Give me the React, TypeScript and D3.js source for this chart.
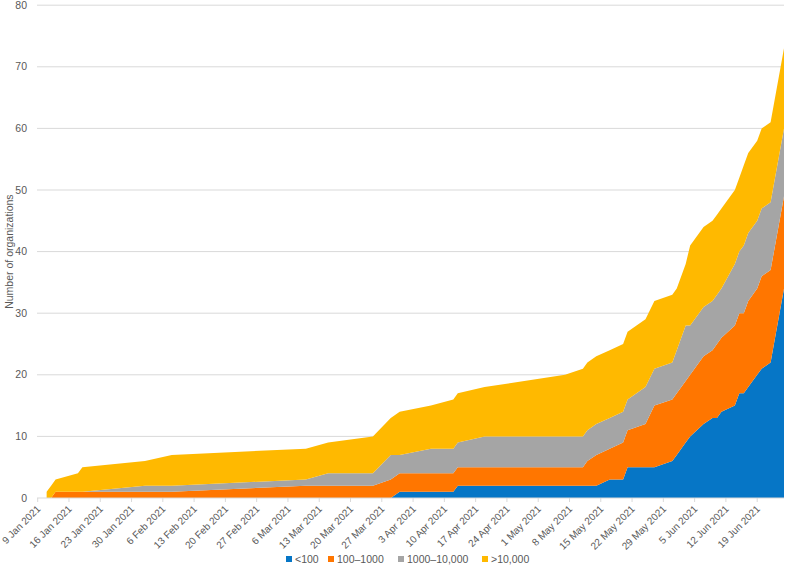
import * as d3 from 'd3';

// dates on which the counts changed (the axis interpolates between them)
const dates = [
  '2021-01-11', '2021-01-12', '2021-01-13', '2021-01-18', '2021-01-19', '2021-02-02',
  '2021-02-08', '2021-03-10', '2021-03-15', '2021-03-25', '2021-03-29', '2021-03-31',
  '2021-04-07', '2021-04-12', '2021-04-13', '2021-04-19', '2021-05-07', '2021-05-11',
  '2021-05-12', '2021-05-14', '2021-05-17', '2021-05-20', '2021-05-21', '2021-05-25',
  '2021-05-27', '2021-05-31', '2021-06-01', '2021-06-03', '2021-06-04', '2021-06-07',
  '2021-06-09', '2021-06-10', '2021-06-11', '2021-06-14', '2021-06-15', '2021-06-16',
  '2021-06-17', '2021-06-19', '2021-06-20', '2021-06-22', '2021-06-25',
];

const under100 = [
  0, 0, 0, 0, 0, 0, 0, 0, 0, 0, 0, 1, 1, 1, 2, 2, 2, 2, 2, 2, 3,
  3, 5, 5, 5, 6, 7, 9, 10, 12, 13, 13, 14, 15, 17, 17, 18, 20, 21, 22, 34,
];
const from100to1000 = [
  0, 0, 1, 1, 1, 1, 1, 2, 2, 2, 3, 3, 3, 3, 3, 3, 3, 3, 4, 5, 5,
  6, 6, 7, 10, 10, 10, 10, 10, 11, 11, 12, 12, 13, 13, 13, 14, 14, 15, 15, 15,
];
const from1000to10000 = [
  0, 0, 0, 0, 0, 1, 1, 1, 2, 2, 4, 3, 4, 4, 4, 5, 5, 5, 5, 5, 5,
  5, 5, 6, 6, 6, 7, 9, 8, 8, 8, 8, 8, 10, 10, 11, 11, 11, 11, 11, 11,
];
const over10000 = [
  1, 2, 2, 3, 4, 4, 5, 5, 5, 6, 6, 7, 7, 8, 8, 8, 10, 11, 11, 11, 11,
  11, 11, 11, 11, 11, 10, 10, 13, 13, 13, 13, 13, 12, 12, 13, 13, 13, 13, 13, 13,
];

const seriesNames = ['<100', '100–1000', '1000–10,000', '>10,000'];
const seriesColors = ['#0676C6', '#FF7600', '#A5A5A5', '#FFB900'];
const yTicks = [0, 10, 20, 30, 40, 50, 60, 70, 80];

const W = 785;
const H = 565;
const FONT = '"Liberation Sans", Arial, sans-serif';
const TEXT = '#595959';

const parse = d3.timeParse('%Y-%m-%d');
const keys = ['a', 'b', 'c', 'd'];
const rows = dates.map((d, i) => ({
  date: parse(d) as Date,
  a: under100[i],
  b: from100to1000[i],
  c: from1000to10000[i],
  d: over10000[i],
}));

export default function App() {
  const start = new Date(2021, 0, 9);
  const end = new Date(2021, 5, 25);
  const x = d3.scaleTime().domain([start, end]).range([37.7, 784]);
  const y = d3.scaleLinear().domain([0, 80]).range([498, 5.2]);

  const stacked = d3.stack<any>().keys(keys)(rows);
  const area = d3.area<any>()
    .x(d => x(d.data.date))
    .y0(d => y(d[0]))
    .y1(d => y(d[1]));

  // weekly ticks from 9 Jan
  const xTicks = d3.range(0, 24).map(i => d3.timeDay.offset(start, i * 7));
  const fmt = d3.timeFormat('%-d %b %Y');

  const legendX = [286, 328, 398, 482];

  return (
    <svg width={W} height={H} style={{ position: 'absolute', left: 0, top: 0, background: '#fff' }}
      fontFamily={FONT}>
      {yTicks.map(t => (
        <g key={t}>
          {t > 0 && (
            <line x1={37} x2={784} y1={y(t)} y2={y(t)} stroke="#D9D9D9" strokeWidth={1} />
          )}
          <text x={27} y={y(t)} dy="0.35em" textAnchor="end" fontSize={10.5} fill={TEXT}>{t}</text>
        </g>
      ))}
      <text transform={`translate(9,${y(40)}) rotate(-90)`} textAnchor="middle" dy="0.35em"
        fontSize={10.5} fill={TEXT}>Number of organizations</text>

      {stacked.map((s, i) => (
        <path key={i} d={area(s) as string} fill={seriesColors[i]} />
      ))}

      <line x1={37} x2={784} y1={y(0)} y2={y(0)} stroke="#D9D9D9" strokeWidth={1} />
      {xTicks.map((t, i) => (
        <g key={i}>
          <line x1={x(t)} x2={x(t)} y1={y(0)} y2={y(0) + 4} stroke="#D9D9D9" />
          <text transform={`translate(${x(t) + 1},${y(0) + 9}) rotate(-45)`} textAnchor="end"
            dy="0.35em" fontSize={10} fill={TEXT}>{fmt(t)}</text>
        </g>
      ))}

      {seriesNames.map((n, i) => (
        <g key={n} transform={`translate(${legendX[i]},559)`}>
          <rect x={0} y={-3} width={6} height={6} fill={seriesColors[i]} />
          <text x={9} y={0} dy="0.35em" fontSize={10.5} fill={TEXT}>{n}</text>
        </g>
      ))}
    </svg>
  );
}
